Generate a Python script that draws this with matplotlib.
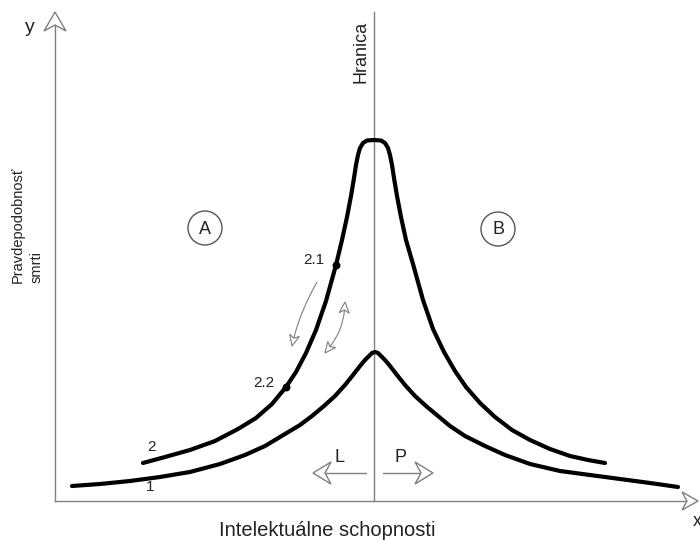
"""
Schematic: probability of death vs. intellectual abilities (Hranica diagram).
Drawn in pixel-like data coordinates (700 x 541, y downwards).
"""

import numpy as np
import matplotlib
matplotlib.use("Agg")
import matplotlib.pyplot as plt
from matplotlib.patches import Polygon, Circle, PathPatch
from matplotlib.path import Path

plt.rcParams["font.family"] = ["Liberation Sans", "DejaVu Sans"]

GRAY = "#7f7f7f"
TEXT = "#222222"

# ── curve 1 (lower) ──
curve1_x = [72, 100, 130, 160, 190, 220, 245, 265, 285, 300, 312, 324, 335, 345, 353,
            360, 365, 369, 372, 375, 378, 381, 385, 390, 397, 405, 415, 426, 438, 450,
            465, 485, 505, 530, 560, 590, 620, 650, 678]
curve1_y = [486, 484, 481, 477, 472, 464, 455, 446, 434, 425, 416, 406, 396, 385, 375,
            366, 360, 356, 353, 352, 353, 356, 360, 366, 375, 385, 396, 406, 416, 426,
            436, 446, 455, 464, 471, 475, 479, 483, 487]

# ── curve 2 (upper) ──
curve2_x = [143, 165, 190, 215, 238, 256, 272, 286, 296, 306, 316, 326, 336, 342, 347,
            351, 354, 356, 358, 360, 363, 367, 374, 381, 385, 388, 390, 392, 394, 397,
            401, 406, 413, 423, 433, 444, 455, 466, 480, 495, 512, 530, 550, 570, 588, 605]
curve2_y = [463, 457, 450, 441, 429, 418, 404, 387, 372, 353, 330, 301, 265, 240, 217,
            196, 178, 165, 155, 148, 143, 140.5, 140, 140.5, 143, 148, 155, 165, 178, 196,
            217, 240, 264, 300, 329, 352, 371, 387, 403, 417, 430, 440, 449, 456, 460, 463]

# marked points on curve 2
point_labels = ["2.1", "2.2"]
point_x = [336, 286]
point_y = [265, 387]


def open_head(ax, tip, direction, length, half_w, notch, lw=1.0):
    """Hollow arrow head with a notch; returns where the shaft should end."""
    tip = np.asarray(tip, float)
    d = np.asarray(direction, float)
    d = d / np.hypot(*d)
    n = np.array([-d[1], d[0]])
    base = tip - d * length
    inner = tip - d * (length - notch)
    pts = [tip, base + n * half_w, inner, base - n * half_w]
    ax.add_patch(Polygon(pts, closed=True, fc="white", ec=GRAY, lw=lw, zorder=4))
    return inner


def straight_arrow(ax, start, tip, length, half_w, notch, lw=1.0):
    start = np.asarray(start, float)
    tip = np.asarray(tip, float)
    end = open_head(ax, tip, tip - start, length, half_w, notch, lw)
    ax.plot([start[0], end[0]], [start[1], end[1]], color=GRAY, lw=lw, zorder=3)


def curved_arrow(ax, start, ctrl, tip, both=False):
    start, ctrl, tip = (np.asarray(p, float) for p in (start, ctrl, tip))
    end = open_head(ax, tip, tip - ctrl, 11, 5, 3, lw=0.8)
    beg = start
    if both:
        beg = open_head(ax, start, start - ctrl, 11, 5, 3, lw=0.8)
    path = Path([beg, ctrl, end], [Path.MOVETO, Path.CURVE3, Path.CURVE3])
    ax.add_patch(PathPatch(path, fc="none", ec=GRAY, lw=0.8, zorder=3))


fig = plt.figure(figsize=(7, 5.41), dpi=100)
ax = fig.add_axes([0, 0, 1, 1])
ax.set_xlim(0, 700)
ax.set_ylim(541, 0)
ax.axis("off")

# axes with hollow arrow heads
y_end = open_head(ax, (55, 12), (0, -1), 19, 11, 6, lw=1.0)
ax.plot([55, 55], [501, y_end[1]], color=GRAY, lw=1.0, zorder=3)
x_end = open_head(ax, (698, 501), (1, 0), 16, 9, 5, lw=1.0)
ax.plot([55, x_end[0]], [501, 501], color=GRAY, lw=1.0, zorder=3)

# border line
ax.plot([374, 374], [12, 501], color=GRAY, lw=1.0, zorder=2)

# curves
ax.plot(curve1_x, curve1_y, color="black", lw=3, solid_capstyle="round",
        solid_joinstyle="round", zorder=5)
ax.plot(curve2_x, curve2_y, color="black", lw=3, solid_capstyle="round",
        solid_joinstyle="round", zorder=5)
ax.scatter(point_x, point_y, s=22, color="black", zorder=6)

# L / P arrows
straight_arrow(ax, (366, 473), (313, 473), 18, 11, 6)
straight_arrow(ax, (383, 473), (433, 473), 18, 11, 6)

# small curved arrows between 2.1 and 2.2
curved_arrow(ax, (317, 282), (300, 312), (292, 346))
curved_arrow(ax, (345, 302), (343, 330), (325, 353), both=True)

# region circles
for label, cx, cy in [("A", 205, 228), ("B", 498, 229)]:
    ax.add_patch(Circle((cx, cy), 17, fc="none", ec="#555555", lw=1.0, zorder=3))
    ax.text(cx, cy + 1, label, ha="center", va="center", fontsize=13, color=TEXT)

# texts
ax.text(30, 28, "y", ha="center", va="center", fontsize=14, color=TEXT)
ax.text(697, 521, "x", ha="center", va="center", fontsize=13, color=TEXT)
ax.text(361, 52, "Hranica", rotation=90, ha="center", va="center",
        fontsize=13, color=TEXT)
ax.text(327, 530, "Intelektuálne schopnosti", ha="center", va="center",
        fontsize=14.5, color=TEXT)
ax.text(27, 283, "Pravdepodobnosť\nsmrti", rotation=90, ha="center", va="bottom",
        multialignment="left", fontsize=10.5, color=TEXT, linespacing=1.45)
ax.text(314, 260, point_labels[0], ha="center", va="center", fontsize=11, color=TEXT)
ax.text(264, 383, point_labels[1], ha="center", va="center", fontsize=11, color=TEXT)
ax.text(151, 447, "2", ha="center", va="center", fontsize=11, color=TEXT)
ax.text(150, 487, "1", ha="center", va="center", fontsize=11, color=TEXT)
ax.text(339, 457, "L", ha="center", va="center", fontsize=13, color=TEXT)
ax.text(401, 457, "P", ha="center", va="center", fontsize=13, color=TEXT)

fig.savefig("out.png", dpi=100)
plt.close(fig)
